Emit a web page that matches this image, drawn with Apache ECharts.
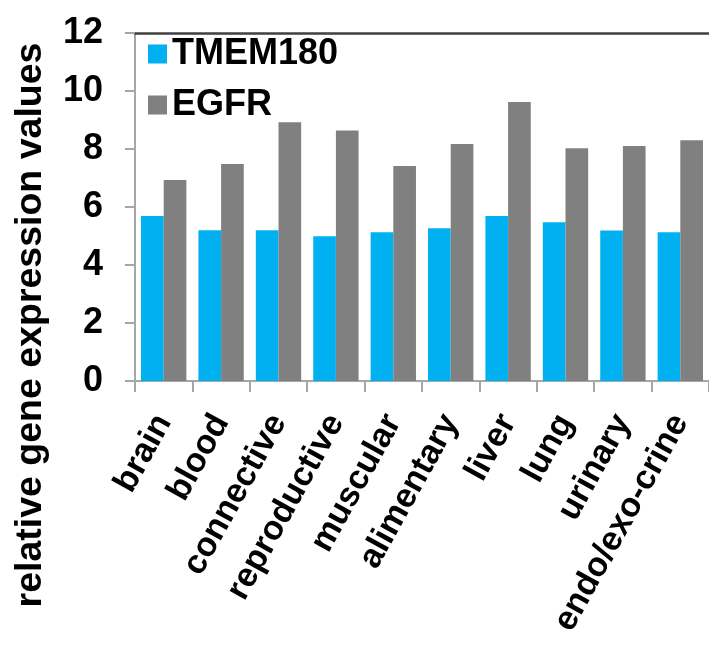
<!DOCTYPE html>
<html>
<head>
<meta charset="utf-8">
<script src="https://cdn.jsdelivr.net/npm/echarts@6/dist/echarts.min.js"></script>
<style>
html,body{margin:0;padding:0;background:#fff;}
#chart{width:709px;height:646px;}
</style>
</head>
<body>
<div id="chart"></div>
<script>
const categories = ['brain','blood','connective','reproductive','muscular','alimentary','liver','lung','urinary','endo/exo-crine'];
const tmem180 = [5.69, 5.20, 5.20, 4.99, 5.13, 5.27, 5.69, 5.47, 5.19, 5.13];
const egfr = [6.93, 7.48, 8.92, 8.64, 7.41, 8.17, 9.62, 8.03, 8.10, 8.30];
const seriesNames = ['TMEM180', 'EGFR'];
const yLabel = 'relative gene expression values';

const FONT = '"Liberation Sans", Arial, sans-serif';
const chart = echarts.init(document.getElementById('chart'), null, {renderer:'canvas'});
chart.setOption({
  animation: false,
  backgroundColor: '#ffffff',
  grid: {left: 135, top: 33, width: 577, height: 348, containLabel: false},
  legend: {
    orient: 'vertical', left: 143, top: 29,
    itemWidth: 19, itemHeight: 19, itemGap: 11,
    icon: 'rect',
    textStyle: {fontFamily: FONT, fontWeight: 'bold', fontSize: 36, color: '#000', lineHeight: 40, padding: [0,0,0,0]},
    data: seriesNames
  },
  graphic: [{
    type: 'text', x: 31, y: 325, rotation: Math.PI/2,
    style: {text: yLabel, font: 'bold 37.5px ' + FONT, fill: '#000', textAlign: 'center', textVerticalAlign: 'middle'}
  }],
  xAxis: [{
    type: 'category', data: categories, position: 'bottom',
    axisLine: {show: true, lineStyle: {color: '#a6a6a6', width: 2}},
    axisTick: {show: true, length: 11, lineStyle: {color: '#a6a6a6', width: 2}},
    axisLabel: {rotate: 61, interval: 0, margin: 36, fontFamily: FONT, fontWeight: 'bold', fontSize: 34, color: '#000'},
    splitLine: {show: false}
  }, {
    type: 'category', data: categories, position: 'top',
    axisLine: {show: true, lineStyle: {color: '#404040', width: 2.5}},
    axisTick: {show: false}, axisLabel: {show: false}, splitLine: {show: false}
  }],
  yAxis: {
    type: 'value', min: 0, max: 12, interval: 2,
    axisLine: {show: true, lineStyle: {color: '#a6a6a6', width: 2}},
    axisTick: {show: true, length: 10, lineStyle: {color: '#a6a6a6', width: 2}},
    axisLabel: {margin: 32, fontFamily: FONT, fontWeight: 'bold', fontSize: 36, color: '#000'},
    splitLine: {show: false}
  },
  series: [
    {name: seriesNames[0], type: 'bar', data: tmem180, barGap: '0%', barCategoryGap: '21%', itemStyle: {color: '#00b0f0'}},
    {name: seriesNames[1], type: 'bar', data: egfr, barGap: '0%', barCategoryGap: '21%', itemStyle: {color: '#808080'}}
  ]
});
</script>
</body>
</html>
